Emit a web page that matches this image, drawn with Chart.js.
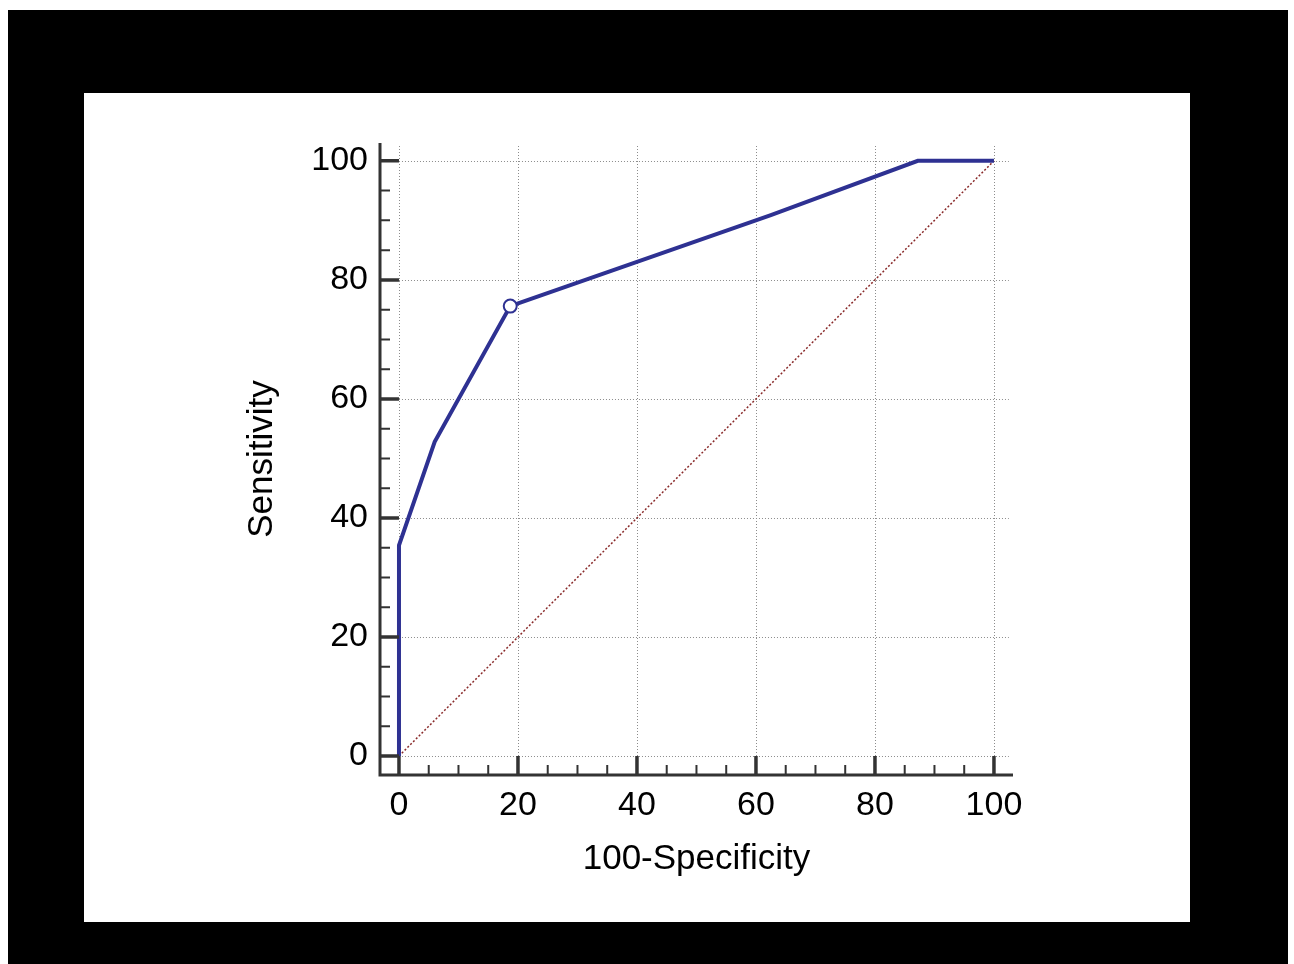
<!DOCTYPE html>
<html>
<head>
<meta charset="utf-8">
<title>ROC curve</title>
<script src="https://cdn.jsdelivr.net/npm/chart.js@4/dist/chart.umd.min.js"></script>
<style>
    html, body { margin: 0; padding: 0; background: #ffffff; }
    #frame { position: absolute; left: 8px; top: 10px; width: 1280px; height: 954px; background: #000000; }
    #panel { position: absolute; left: 84px; top: 93px; width: 1106px; height: 829px; background: #ffffff; }
    #roc { position: absolute; left: 0; top: 0; }
</style>
</head>
<body>
<div id="frame"></div>
<div id="panel"><canvas id="roc" width="1106" height="829"></canvas></div>
<script>
// ROC curve (100-Specificity, Sensitivity)
var rocX = [0, 0, 6.0, 18.7, 62.5, 87.2, 100];
var rocY = [0, 35.4, 52.8, 75.6, 90.9, 100, 100];

// criterion point (open circle)
var critX = [18.7];
var critY = [75.6];

// reference diagonal
var diagX = [0, 100];
var diagY = [0, 100];

var majorTicks = [0, 20, 40, 60, 80, 100];
var minorTicks = [5, 10, 15, 25, 30, 35, 45, 50, 55, 65, 70, 75, 85, 90, 95];

var AXIS_MIN = -3.19;
var X_MAX = 103.2;
var Y_MAX = 103.0;
var GRID_END = 102.5;

function toPoints(xs, ys) {
    return xs.map(function(x, i) { return { x: x, y: ys[i] }; });
}

function setTicks(axis) {
    axis.ticks = majorTicks.map(function(v) { return { value: v }; });
}

Chart.defaults.font.family = '"Liberation Sans", Arial, Helvetica, sans-serif';
Chart.defaults.color = '#000000';

// grid, offset axes and inward ticks, drawn through the scales
var axesPlugin = {
    id: 'rocAxes',
    beforeDatasetsDraw: function(chart) {
        var ctx = chart.ctx;
        var xs = chart.scales.x, ys = chart.scales.y;
        ctx.save();
        ctx.strokeStyle = '#8c8c8c';
        ctx.lineWidth = 1;
        ctx.setLineDash([1, 2]);
        majorTicks.forEach(function(v) {
            var px = Math.round(xs.getPixelForValue(v)) + 0.5;
            ctx.beginPath();
            ctx.moveTo(px, ys.getPixelForValue(0));
            ctx.lineTo(px, ys.getPixelForValue(GRID_END));
            ctx.stroke();
            var py = Math.round(ys.getPixelForValue(v)) + 0.5;
            ctx.beginPath();
            ctx.moveTo(xs.getPixelForValue(0), py);
            ctx.lineTo(xs.getPixelForValue(GRID_END), py);
            ctx.stroke();
        });
        ctx.restore();
    },
    afterDatasetsDraw: function(chart) {
        var ctx = chart.ctx;
        var a = chart.chartArea;
        var xs = chart.scales.x, ys = chart.scales.y;
        ctx.save();
        ctx.strokeStyle = '#333333';
        ctx.lineCap = 'butt';

        // axis lines
        ctx.lineWidth = 3;
        ctx.beginPath();
        ctx.moveTo(a.left, a.top);
        ctx.lineTo(a.left, a.bottom + 1.5);
        ctx.moveTo(a.left - 1.5, a.bottom);
        ctx.lineTo(a.right, a.bottom);
        ctx.stroke();

        var majLen = xs.getPixelForValue(0) - a.left;

        ctx.lineWidth = 3.5;
        ctx.beginPath();
        majorTicks.forEach(function(v) {
            var px = xs.getPixelForValue(v);
            ctx.moveTo(px, a.bottom);
            ctx.lineTo(px, a.bottom - majLen);
            var py = ys.getPixelForValue(v);
            ctx.moveTo(a.left, py);
            ctx.lineTo(a.left + majLen, py);
        });
        ctx.stroke();

        ctx.lineWidth = 2;
        ctx.beginPath();
        minorTicks.forEach(function(v) {
            var px = xs.getPixelForValue(v);
            ctx.moveTo(px, a.bottom);
            ctx.lineTo(px, a.bottom - 10);
            var py = ys.getPixelForValue(v);
            ctx.moveTo(a.left, py);
            ctx.lineTo(a.left + 10, py);
        });
        ctx.stroke();
        ctx.restore();
    }
};

var tickFont = { size: 34 };
var titleFont = { size: 35 };

new Chart(document.getElementById('roc').getContext('2d'), {
    type: 'line',
    data: {
        datasets: [{
            label: 'Criterion',
            data: toPoints(critX, critY),
            showLine: false,
            pointRadius: 6.5,
            pointBorderWidth: 2,
            pointBackgroundColor: '#ffffff',
            pointBorderColor: '#2E3192',
            order: 0
        }, {
            label: 'ROC',
            data: toPoints(rocX, rocY),
            borderColor: '#2E3192',
            borderWidth: 4,
            pointRadius: 0,
            tension: 0,
            fill: false,
            order: 1
        }, {
            label: 'Diagonal',
            data: toPoints(diagX, diagY),
            borderColor: '#8a2b2b',
            borderWidth: 1.5,
            borderDash: [2, 2],
            pointRadius: 0,
            fill: false,
            order: 2
        }]
    },
    options: {
        responsive: false,
        animation: false,
        layout: { padding: { left: 153, right: 177, top: 50, bottom: 38 } },
        plugins: {
            legend: { display: false },
            tooltip: { enabled: false }
        },
        scales: {
            x: {
                type: 'linear',
                min: AXIS_MIN,
                max: X_MAX,
                grid: { display: false, drawTicks: false },
                border: { display: false },
                afterBuildTicks: setTicks,
                afterFit: function(scale) { scale.height = 109; },
                ticks: { font: tickFont, color: '#000000', padding: 10, autoSkip: false, maxRotation: 0 },
                title: { display: true, text: '100-Specificity', font: titleFont, color: '#000000', padding: { top: 4, bottom: 4 } }
            },
            y: {
                type: 'linear',
                min: AXIS_MIN,
                max: Y_MAX,
                grid: { display: false, drawTicks: false },
                border: { display: false },
                afterBuildTicks: setTicks,
                afterFit: function(scale) { scale.width = 143; },
                ticks: { font: tickFont, color: '#000000', padding: 12, autoSkip: false },
                title: { display: true, text: 'Sensitivity', font: titleFont, color: '#000000', padding: { top: 4, bottom: 4 } }
            }
        }
    },
    plugins: [axesPlugin]
});
</script>
</body>
</html>
